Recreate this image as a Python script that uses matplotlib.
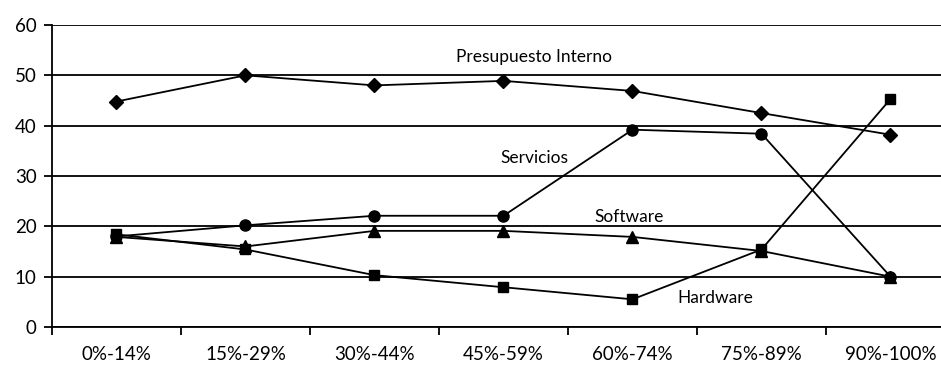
import numpy as np
import matplotlib.pyplot as plt

plt.rcParams['font.family'] = ['Lato', 'DejaVu Sans']

categories = ['0%-14%', '15%-29%', '30%-44%', '45%-59%', '60%-74%', '75%-89%', '90%-100%']
presupuesto = [44.8, 50.0, 48.0, 48.9, 46.9, 42.5, 38.2]
servicios = [18.0, 20.2, 22.1, 22.1, 39.2, 38.4, 10.0]
software = [17.9, 16.0, 19.1, 19.1, 17.9, 15.1, 10.0]
hardware = [18.4, 15.4, 10.3, 7.9, 5.5, 15.4, 45.3]

fig = plt.figure(figsize=(9.41, 3.65), dpi=100)
# axes runs past the right edge, the last category is cut off
ax = fig.add_axes([52 / 941, 1 - 327 / 365, 903 / 941, 302 / 365])

x = np.arange(len(categories))
ax.plot(x, presupuesto, color='black', lw=1.3, marker='D', ms=7.5, zorder=3)
ax.plot(x, servicios, color='black', lw=1.3, marker='o', ms=8, zorder=3)
ax.plot(x, software, color='black', lw=1.3, marker='^', ms=8.5, zorder=3)
ax.plot(x, hardware, color='black', lw=1.3, marker='s', ms=7.5, zorder=3)

ax.set_xlim(-0.5, len(categories) - 0.5)
ax.set_ylim(0, 60)
ax.set_yticks(range(0, 61, 10))
ax.grid(axis='y', color='black', lw=1.3)
ax.set_axisbelow(True)

ax.set_xticks(x)
ax.set_xticklabels(categories)
ax.set_xticks(np.arange(-0.5, len(categories), 1), minor=True)
ax.tick_params(axis='x', which='major', length=0, pad=14, labelsize=13.5)
ax.tick_params(axis='x', which='minor', length=6, width=1.3, direction='out')
ax.tick_params(axis='y', length=6, width=1.3, labelsize=13.5, pad=5)

for side in ['top', 'right']:
    ax.spines[side].set_visible(False)
for side in ['left', 'bottom']:
    ax.spines[side].set_linewidth(1.3)

ax.text(3.24, 53.7, 'Presupuesto Interno', ha='center', va='center', fontsize=12.5)
ax.text(3.24, 33.6, 'Servicios', ha='center', va='center', fontsize=12.5)
ax.text(3.97, 21.9, 'Software', ha='center', va='center', fontsize=12.5)
ax.text(4.64, 5.8, 'Hardware', ha='center', va='center', fontsize=12.5)

fig.savefig('out.png', dpi=100)
